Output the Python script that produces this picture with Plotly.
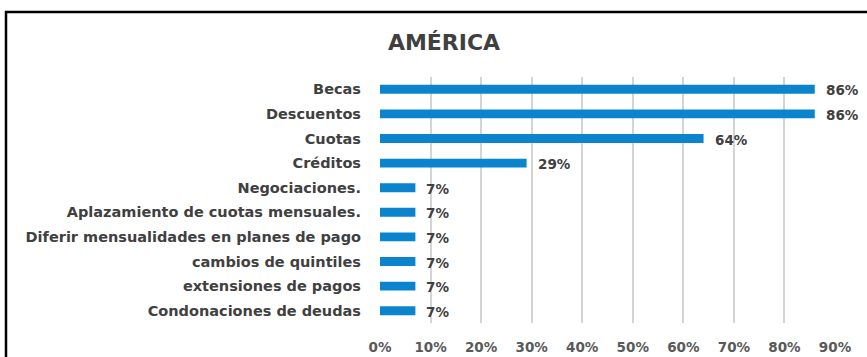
import plotly.graph_objects as go

# Apoyos económicos ofrecidos a estudiantes (América)
categories = [
    "Becas",
    "Descuentos",
    "Cuotas",
    "Créditos",
    "Negociaciones.",
    "Aplazamiento de cuotas mensuales.",
    "Diferir mensualidades en planes de pago",
    "cambios de quintiles",
    "extensiones de pagos",
    "Condonaciones de deudas",
]
values = [0.86, 0.86, 0.64, 0.29, 0.07, 0.07, 0.07, 0.07, 0.07, 0.07]
tick_vals = [0, 0.1, 0.2, 0.3, 0.4, 0.5, 0.6, 0.7, 0.8, 0.9]
tick_text = ["0%", "10%", "20%", "30%", "40%", "50%", "60%", "70%", "80%", "90%"]

W, H = 867, 357
ML, MR, MT, MB = 380, 32, 77, 34
FONT = "DejaVu Sans"
TEXT_DARK = "#404040"

fig = go.Figure(
    go.Bar(
        x=values,
        y=categories,
        orientation="h",
        marker=dict(color="#0A84CC", line=dict(width=0)),
        width=0.36,
        hoverinfo="x+y",
    )
)

# value labels to the right of each bar
for cat, v in zip(categories, values):
    fig.add_annotation(
        x=v, y=cat, xref="x", yref="y",
        text=f"<b>{round(v * 100)}%</b>", showarrow=False,
        xanchor="left", yanchor="middle", xshift=9, yshift=-1,
        font=dict(family=FONT, size=13.5, color=TEXT_DARK),
    )

# frame around the chart area (paper units converted from pixels)
pw, ph = W - ML - MR, H - MT - MB
def px_x(p):
    return (p - ML) / pw
def px_y(p):
    return 1 - (p - MT) / ph

fig.add_shape(
    type="rect", xref="paper", yref="paper",
    x0=px_x(6), x1=px_x(900), y0=px_y(420), y1=px_y(12),
    line=dict(color="#000000", width=2.5), fillcolor="rgba(0,0,0,0)",
)

fig.update_layout(
    width=W, height=H,
    margin=dict(l=ML, r=MR, t=MT, b=MB, pad=0, autoexpand=False),
    paper_bgcolor="white", plot_bgcolor="white",
    showlegend=False,
    title=dict(
        text="<b>AMÉRICA</b>", x=444 / W, xanchor="center",
        y=1 - 42 / H, yanchor="middle",
        font=dict(family=FONT, size=22, color=TEXT_DARK),
    ),
    xaxis=dict(
        range=[0, 0.9], tickvals=tick_vals, ticktext=tick_text,
        showgrid=True, gridcolor="#D4D4D4", gridwidth=1.5,
        zeroline=False, showline=False, ticks="", automargin=False,
        tickfont=dict(family=FONT, size=13.5, color="#595959", weight="bold"),
        ticklabelstandoff=14,
    ),
    yaxis=dict(
        autorange="reversed", showgrid=False, zeroline=False, showline=False,
        ticks="", ticklabelstandoff=18, automargin=False,
        tickfont=dict(family=FONT, size=14.5, color=TEXT_DARK, weight="bold"),
    ),
)

fig.write_html("out.html")
